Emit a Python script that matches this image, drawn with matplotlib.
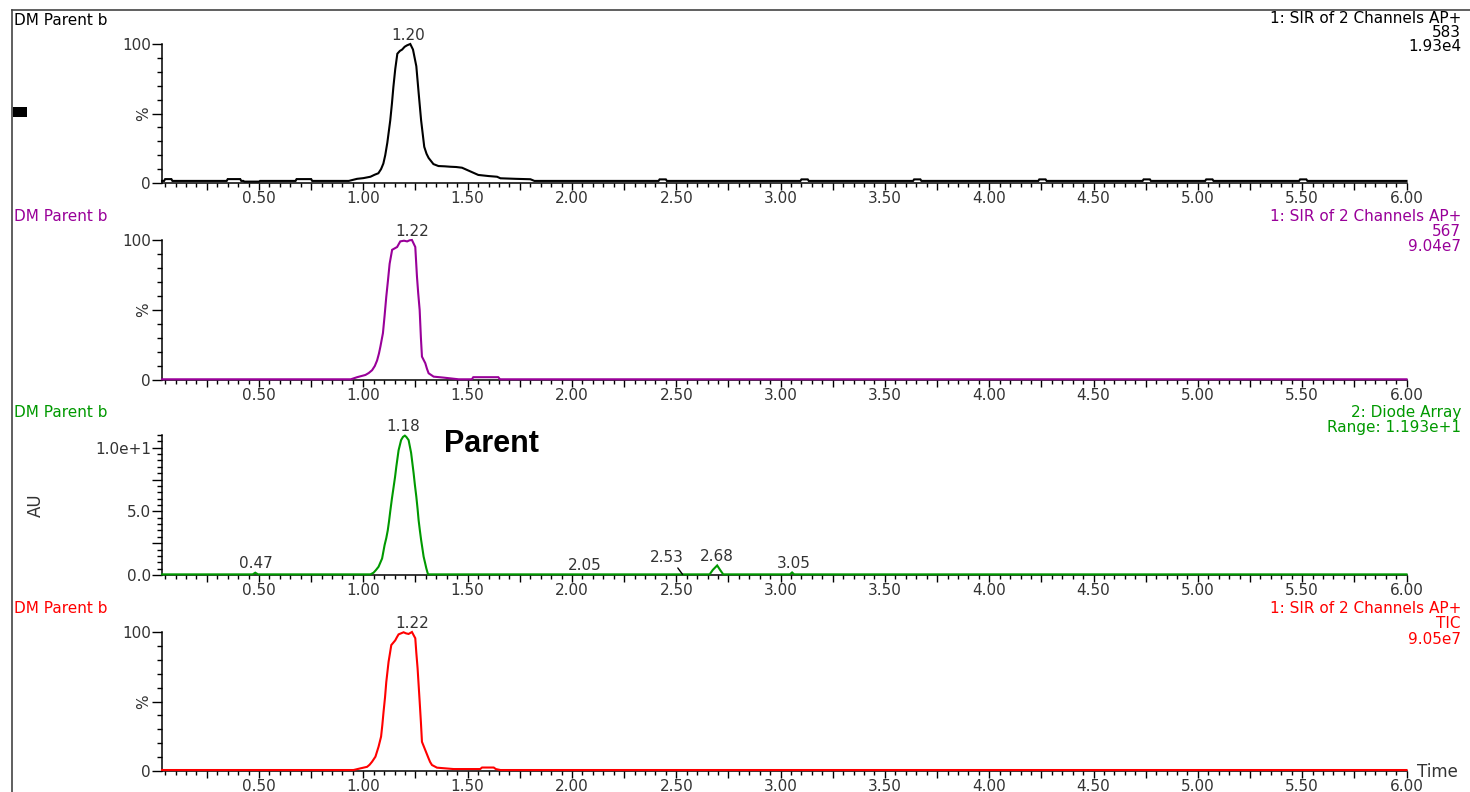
import numpy as np
import matplotlib
matplotlib.use("Agg")
import matplotlib.pyplot as plt
from matplotlib.ticker import MultipleLocator, FixedLocator, FixedFormatter, FuncFormatter
from matplotlib.lines import Line2D
from matplotlib.patches import Rectangle
import matplotlib.transforms as mtransforms

plt.rcParams['font.family'] = ['DejaVu Sans']

# ---------------- data ----------------
# Trace 1: SIR 583 (black), % of 1.93e4
time_583 = [0.035, 0.045, 0.05, 0.08, 0.085, 0.345, 0.35, 0.41, 0.415, 0.425, 0.43, 0.50, 0.505,
            0.675, 0.68, 0.75, 0.755,
            0.93, 0.97, 1.00, 1.034, 1.055, 1.072, 1.085, 1.096, 1.105, 1.115, 1.122, 1.129, 1.137,
            1.144, 1.153, 1.163, 1.175, 1.186, 1.198, 1.209, 1.225, 1.238, 1.246, 1.254, 1.265,
            1.277, 1.292, 1.303, 1.313, 1.336, 1.36, 1.39, 1.417, 1.445, 1.473, 1.497, 1.527,
            1.551, 1.60, 1.641, 1.657, 1.73, 1.801, 1.82,
            2.415, 2.42, 2.45, 2.455, 3.095, 3.10, 3.13, 3.135, 3.635, 3.64, 3.67, 3.675,
            4.235, 4.24, 4.27, 4.275, 4.735, 4.74, 4.77, 4.775, 5.035, 5.04, 5.07, 5.075,
            5.485, 5.49, 5.52, 5.525, 6.00]
int_583 = [1.5, 1.5, 2.8, 2.8, 1.5, 1.5, 2.8, 2.8, 1.5, 1.5, 1.0, 1.0, 1.5,
           1.5, 2.8, 2.8, 1.5,
           1.5, 3.0, 3.5, 4.5, 6.0, 7.0, 10.0, 14.0, 20.0, 29.0, 37.0, 45.0, 57.0,
           69.0, 82.0, 93.0, 95.0, 96.0, 98.0, 99.0, 100.0, 96.0, 90.0, 84.0, 65.0,
           45.0, 26.0, 21.0, 18.0, 13.6, 12.2, 12.0, 11.7, 11.5, 11.0, 9.4, 7.4,
           5.8, 5.0, 4.5, 3.4, 3.0, 2.7, 1.5,
           1.5, 2.6, 2.6, 1.5, 1.5, 2.6, 2.6, 1.5, 1.5, 2.6, 2.6, 1.5,
           1.5, 2.6, 2.6, 1.5, 1.5, 2.6, 2.6, 1.5, 1.5, 2.6, 2.6, 1.5,
           1.5, 2.6, 2.6, 1.5, 1.5]

# Trace 2: SIR 567 (purple), % of 9.04e7
time_567 = [0.035, 0.94, 0.97, 1.01, 1.026, 1.042, 1.055, 1.066, 1.075, 1.082, 1.094, 1.102,
            1.110, 1.118, 1.126, 1.138, 1.150, 1.162, 1.177, 1.195, 1.210, 1.222, 1.233, 1.249,
            1.257, 1.263, 1.270, 1.276, 1.281, 1.297, 1.305, 1.313, 1.337, 1.385, 1.457, 1.52,
            1.527, 1.647, 1.655, 6.00]
int_567 = [0.5, 0.5, 2.0, 3.6, 5.0, 7.0, 10.0, 14.0, 19.0, 24.0, 33.5, 46.0,
           59.5, 71.0, 83.0, 93.0, 94.0, 95.0, 99.0, 99.5, 99.0, 99.8, 100.0, 95.0,
           74.0, 62.0, 50.0, 30.0, 16.7, 12.0, 8.0, 4.8, 2.4, 1.7, 0.5, 0.5,
           2.0, 2.0, 0.5, 0.5]

# Trace 3: Diode array (green), AU
time_da = [0.035, 0.47, 0.482, 0.495, 1.034, 1.049, 1.061, 1.073, 1.090, 1.102, 1.110, 1.117,
           1.123, 1.129, 1.137, 1.145, 1.152, 1.158, 1.169, 1.181, 1.190, 1.199, 1.206, 1.217,
           1.229, 1.241, 1.247, 1.254, 1.260, 1.265, 1.271, 1.277, 1.283, 1.289, 1.296, 1.302,
           1.310, 2.66, 2.675, 2.696, 2.71, 2.725, 3.045, 3.055, 3.065, 6.00]
int_da = [0.05, 0.05, 0.18, 0.05, 0.05, 0.18, 0.4, 0.65, 1.3, 2.36, 2.9, 3.5,
          4.2, 5.0, 6.0, 6.9, 7.7, 8.5, 9.8, 10.6, 10.85, 10.95, 10.85, 10.6,
          9.6, 8.0, 7.1, 6.15, 5.2, 4.3, 3.5, 2.75, 2.1, 1.44, 0.95, 0.52,
          0.05, 0.05, 0.4, 0.75, 0.4, 0.05, 0.05, 0.2, 0.05, 0.05]

# Trace 4: TIC (red), % of 9.05e7
time_tic = [0.035, 0.953, 0.986, 1.018, 1.030, 1.042, 1.058, 1.073, 1.085, 1.091, 1.097, 1.104,
            1.110, 1.121, 1.128, 1.134, 1.153, 1.160, 1.169, 1.193, 1.205, 1.217, 1.233, 1.249,
            1.254, 1.260, 1.270, 1.276, 1.281, 1.297, 1.305, 1.313, 1.320, 1.329, 1.353, 1.433,
            1.500, 1.560, 1.569, 1.625, 1.635, 1.657, 6.00]
int_tic = [0.7, 0.7, 1.9, 3.0, 4.5, 6.7, 10.3, 17.5, 24.7, 33.0, 42.7, 53.0,
           64.0, 78.6, 85.0, 90.6, 94.0, 96.0, 98.3, 99.8, 99.0, 98.6, 100.0, 95.5,
           85.0, 74.0, 50.0, 35.0, 21.0, 15.0, 12.0, 9.0, 6.5, 4.3, 2.4, 1.4,
           1.4, 1.4, 2.5, 2.5, 1.4, 0.7, 0.7]

peaks_583 = [1.20]
peaks_567 = [1.22]
peaks_da = [0.47, 1.18, 2.05, 2.53, 2.68, 3.05]
peaks_tic = [1.22]

title = "DM Parent b"
info_583 = ["1: SIR of 2 Channels AP+", "583", "1.93e4"]
info_567 = ["1: SIR of 2 Channels AP+", "567", "9.04e7"]
info_da = ["2: Diode Array", "Range: 1.193e+1"]
info_tic = ["1: SIR of 2 Channels AP+", "TIC", "9.05e7"]

x_ticklabels = ["0.50", "1.00", "1.50", "2.00", "2.50", "3.00", "3.50", "4.00", "4.50",
                "5.00", "5.50", "6.00"]

# ---------------- layout ----------------
W, H = 1470.0, 792.0
fig = plt.figure(figsize=(14.7, 7.92), dpi=100)

AX_L, AX_R = 162.0, 1406.5
TXT = '#333333'
FS = 11
HFS = 11

panels = [
    dict(t=time_583, v=int_583, color='#000000', info=info_583, peaks=peaks_583,
         y0=183, ytop=44, ylim=(0, 100), kind='pct', title_y=20, info_y=[18, 32, 46]),
    dict(t=time_567, v=int_567, color='#990099', info=info_567, peaks=peaks_567,
         y0=380, ytop=240, ylim=(0, 100), kind='pct', title_y=216, info_y=[216, 231, 246]),
    dict(t=time_da, v=int_da, color='#009900', info=info_da, peaks=peaks_da,
         y0=575, ytop=435, ylim=(0, 11.0), kind='au', title_y=412, info_y=[412, 427]),
    dict(t=time_tic, v=int_tic, color='#ff0000', info=info_tic, peaks=peaks_tic,
         y0=771, ytop=632, ylim=(0, 100), kind='pct', title_y=608, info_y=[608, 623, 639]),
]

xt_vals = [float(s) for s in x_ticklabels]

for p in panels:
    ax = fig.add_axes([AX_L / W, 1 - p['y0'] / H, (AX_R - AX_L) / W, (p['y0'] - p['ytop']) / H])
    ax.set_xlim(0.035, 6.0)
    ax.set_ylim(*p['ylim'])
    for s in ('top', 'right'):
        ax.spines[s].set_visible(False)
    for s in ('left', 'bottom'):
        ax.spines[s].set_linewidth(1.1)
        ax.spines[s].set_color('black')
    ax.patch.set_alpha(0)

    ax.plot(p['t'], p['v'], color=p['color'], lw=1.5, clip_on=False, zorder=3,
            solid_joinstyle='miter')

    # x ticks: majors every 0.25, labels every 0.5
    ax.xaxis.set_major_locator(MultipleLocator(0.25))
    ax.xaxis.set_minor_locator(MultipleLocator(0.05))
    ax.xaxis.set_major_formatter(FuncFormatter(
        lambda x, pos: x_ticklabels[xt_vals.index(round(x, 2))] if round(x, 2) in xt_vals else ''))
    ax.tick_params(axis='x', which='major', length=5, width=1, pad=1, labelsize=FS,
                   labelcolor=TXT, direction='out')
    ax.tick_params(axis='x', which='minor', length=3, width=1, direction='out')

    if p['kind'] == 'pct':
        ax.yaxis.set_major_locator(FixedLocator([0, 50, 100]))
        ax.yaxis.set_major_formatter(FixedFormatter(['0', '', '100']))
        ax.yaxis.set_minor_locator(MultipleLocator(10))
        ax.text(-0.0145, 50, '%', rotation=90, ha='center', va='center', fontsize=FS,
                color=TXT, transform=mtransforms.blended_transform_factory(ax.transAxes, ax.transData))
    else:
        ax.yaxis.set_major_locator(FixedLocator([0, 2.5, 5, 7.5, 10]))
        ax.yaxis.set_major_formatter(FixedFormatter(['0.0', '', '5.0', '', '1.0e+1']))
        ax.yaxis.set_minor_locator(MultipleLocator(0.5))
        ax.text(-0.101, 5.5, 'AU', rotation=90, ha='center', va='center', fontsize=12,
                color=TXT, transform=mtransforms.blended_transform_factory(ax.transAxes, ax.transData))
    ax.tick_params(axis='y', which='major', length=7, width=1, pad=1, labelsize=FS,
                   labelcolor=TXT, direction='out')
    ax.tick_params(axis='y', which='minor', length=3.5, width=1, direction='out')

    # peak labels
    for pk in p['peaks']:
        grid = np.linspace(pk - 0.04, pk + 0.04, 81)
        yv = float(np.max(np.interp(grid, p['t'], p['v'])))
        lab = f"{pk:.2f}"
        if lab == "2.53":
            ax.annotate(lab, xy=(pk, yv), xytext=(-11, 12), textcoords='offset points',
                        ha='center', va='center', fontsize=FS, color=TXT,
                        arrowprops=dict(arrowstyle='-', color='black', lw=1, shrinkA=0,
                                        shrinkB=0, relpos=(0.75, 0.0)),
                        annotation_clip=False)
        else:
            ax.annotate(lab, xy=(pk, yv), xytext=(2, 1), textcoords='offset points',
                        ha='center', va='bottom', fontsize=FS, color=TXT,
                        annotation_clip=False)

    # headers
    fig.text(14 / W, 1 - (p['title_y'] + 5) / H, title, ha='left', va='baseline',
             fontsize=HFS, color=p['color'])
    for line, yy in zip(p['info'], p['info_y']):
        fig.text(1461 / W, 1 - (yy + 5) / H, line, ha='right', va='baseline',
                 fontsize=HFS, color=p['color'])

# annotations on the figure
fig.text(444 / W, 1 - 452 / H, 'Parent', ha='left', va='baseline', fontsize=22,
         fontweight='bold', family=['Liberation Sans', 'DejaVu Sans'], color='black')
fig.text(1417 / W, 1 - 777 / H, 'Time', ha='left', va='baseline', fontsize=12, color=TXT)

# frame and marker
fig.add_artist(Line2D([12 / W, 12 / W], [0, 1 - 10 / H], transform=fig.transFigure,
                      color='#444444', lw=1.2))
fig.add_artist(Line2D([12 / W, 1.0], [1 - 10 / H, 1 - 10 / H], transform=fig.transFigure,
                      color='#444444', lw=1.2))
fig.add_artist(Rectangle((13 / W, 1 - 117 / H), 14 / W, 10 / H, transform=fig.transFigure,
                         facecolor='black', edgecolor='none'))

fig.savefig('out.png', dpi=100, facecolor='white')
